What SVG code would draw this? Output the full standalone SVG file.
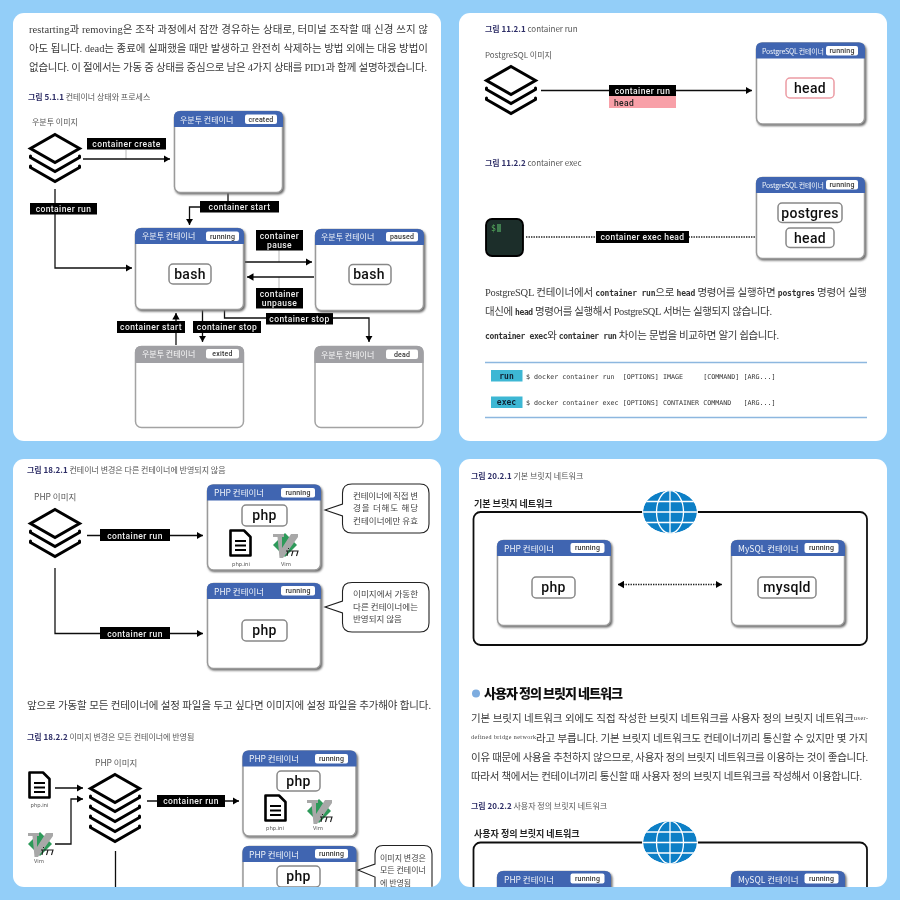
<svg xmlns="http://www.w3.org/2000/svg" width="900" height="900" viewBox="0 0 900 900">
<style>
.body{font-family:"Liberation Serif","Noto Sans CJK KR",serif;font-size:10.5px;fill:#3a3a3a}
.mono{font-family:"DejaVu Sans Mono","Noto Sans CJK KR",monospace;font-size:8px;fill:#333;font-weight:700}
.cmd{font-family:"DejaVu Sans Mono",monospace;font-size:6.7px;fill:#333;white-space:pre}
.tag{font-family:"DejaVu Sans Mono",monospace;font-size:8px;fill:#123;font-weight:700;text-anchor:middle}
.cap{font-family:"Noto Sans CJK KR","Noto Sans",sans-serif;font-size:8px;fill:#555}
.capb{font-weight:700;fill:#2d2d66}
.sm{font-family:"Noto Sans CJK KR","Noto Sans",sans-serif;font-size:8px;fill:#555}
.tt{font-family:"Noto Sans CJK KR","Noto Sans",sans-serif;font-size:8px;fill:#fff;opacity:.92}
.tl{font-size:8.5px}
.bd{font-family:Roboto,"Noto Sans",sans-serif;font-size:7px;font-weight:500;fill:#333;text-anchor:middle;letter-spacing:.2px}
.bdg{fill:#fff}
.pr{fill:#fff;stroke:#888;stroke-width:1.5}
.prt{font-family:Roboto,"Noto Sans",sans-serif;font-size:14px;font-weight:500;fill:#111;text-anchor:middle;letter-spacing:.3px}
.lb{fill:#000}
.lt{font-family:Roboto,"Noto Sans",sans-serif;font-size:8.5px;font-weight:500;fill:#eee;text-anchor:middle;letter-spacing:.4px}
.w{fill:none;stroke:#111;stroke-width:1.3}
.a{marker-end:url(#ah)}
.thin{fill:none;stroke:#999;stroke-width:.7}
.dot{fill:none;stroke:#222;stroke-width:1.4;stroke-dasharray:1.4 1.1}
.ic{font-family:"Noto Sans","Noto Sans CJK KR",sans-serif;font-size:5.5px;fill:#555;text-anchor:middle}
.cb{font-family:"Noto Sans CJK KR","Noto Sans",sans-serif;font-size:8.5px;fill:#444}
.call{fill:#fff;stroke:#222;stroke-width:1.1}
.nt{font-family:"Noto Sans CJK KR","Noto Sans",sans-serif;font-size:9px;font-weight:700;fill:#222}
.s{fill:none;stroke:#000;stroke-width:3;stroke-linejoin:miter;stroke-linecap:round}
</style>
<defs>
<filter id="soft" x="0" y="0" width="100%" height="100%"><feGaussianBlur stdDeviation="0.3"/></filter>
<filter id="sh" x="-5%" y="-5%" width="112%" height="112%"><feGaussianBlur stdDeviation="0.8"/></filter>
<marker id="ah" markerUnits="userSpaceOnUse" markerWidth="7" markerHeight="8" refX="6.5" refY="4" orient="auto"><path d="M0,0.3L6.5,4L0,7.7Z" fill="#000"/></marker>
<marker id="ahs" markerUnits="userSpaceOnUse" markerWidth="7" markerHeight="8" refX="0.5" refY="4" orient="auto"><path d="M6.5,0.3L0,4L6.5,7.7Z" fill="#000"/></marker>
<clipPath id="p3"><rect x="13" y="459" width="428" height="428" rx="11"/></clipPath>
<clipPath id="p4"><rect x="459" y="459" width="428" height="428" rx="11"/></clipPath>
<clipPath id="gc"><ellipse cx="0" cy="0" rx="27" ry="21.5"/></clipPath>
<g id="lay"><path class="s" d="M-24.500,23V24.500L0,38.500L24.500,24.500V23"/></g>
<g id="stack"><path class="s" d="M0,1.500L24.500,15.500L0,29.500L-24.500,15.500Z"/><use href="#lay"/><use href="#lay" y="10"/></g>
<g id="stack5"><use href="#stack"/><use href="#lay" y="20"/><use href="#lay" y="30"/></g>
<g id="box"><rect x="1" y="1.500" width="109.500" height="82" rx="6" fill="#666" filter="url(#sh)"/><rect x=".5" y=".5" width="108" height="81" rx="6" fill="#fff" stroke="#9a9a9a" stroke-width="1.500"/><path d="M0,16V6Q0,0 6,0H103Q109,0 109,6V16Z" fill="#3f65b1"/></g>
<g id="boxg"><rect x=".5" y=".5" width="108" height="81" rx="6" fill="#fff" stroke="#a3a3a3" stroke-width="1.500"/><path d="M0,17V6Q0,0 6,0H103Q109,0 109,6V17Z" fill="#a0a0a4"/></g>
<g id="boxL"><rect x="1" y="1.500" width="114.500" height="86" rx="6" fill="#666" filter="url(#sh)"/><rect x=".5" y=".5" width="113" height="85" rx="6" fill="#fff" stroke="#9a9a9a" stroke-width="1.500"/><path d="M0,16V6Q0,0 6,0H108Q114,0 114,6V16Z" fill="#3f65b1"/></g>
<g id="doc"><path d="M1.500,1.500H15L21.500,8V26.500H1.500Z" fill="#fff" stroke="#000" stroke-width="2.600" stroke-linejoin="round"/><path d="M6,12H17M6,16.500H17M6,21H17" stroke="#000" stroke-width="1.800"/></g>
<g id="vim"><path d="M12,0L24,12L12,24L0,12Z" fill="#2f9a5a"/><path d="M0,1H11V4H9V15L18,1H25V4L10,25H6.500L4.500,4H0Z" fill="#a8a8a8"/><path d="M13,18h2l-1,5M16,18h9l-1.500,5M20,18l-1.500,5M15,15.500h1" fill="none" stroke="#1b1b1b" stroke-width="1.100"/></g>
<g id="globe"><ellipse rx="28" ry="22.500" fill="#fff"/><g clip-path="url(#gc)"><ellipse rx="27" ry="21.500" fill="#0f7fc6"/><path d="M-27,-10.500H27M-27,0H27M-27,10.500H27M0,-22V22" stroke="#fff" stroke-width="1.300"/><ellipse rx="13.500" ry="21.500" fill="none" stroke="#fff" stroke-width="1.300"/></g></g>
</defs>
<rect width="900" height="900" fill="#93cef8"/>
<g filter="url(#soft)">
<g id="panels" fill="#fff"><rect x="13" y="13" width="428" height="428" rx="11"/><rect x="459" y="13" width="428" height="428" rx="11"/><rect x="13" y="459" width="428" height="428" rx="11"/><rect x="459" y="459" width="428" height="428" rx="11"/></g>

<g id="panel1-text">
<text class="body" x="29" y="33" textLength="399">restarting과 removing은 조작 과정에서 잠깐 경유하는 상태로, 터미널 조작할 때 신경 쓰지 않</text>
<text class="body" x="29" y="52" textLength="399">아도 됩니다. dead는 종료에 실패했을 때만 발생하고 완전히 삭제하는 방법 외에는 대응 방법이</text>
<text class="body" x="29" y="71" textLength="398">없습니다. 이 절에서는 가동 중 상태를 중심으로 남은 4가지 상태를 PID1과 함께 설명하겠습니다.</text>
<text class="cap" x="28" y="100"><tspan class="capb">그림 5.1.1</tspan> 컨테이너 상태와 프로세스</text>
<text class="sm" x="32" y="125">우분투 이미지</text>
</g>
<g id="connectors1">
<path class="thin" d="M126,150V159M279,250V262M279,277V288"/>
<path class="w a" d="M83,159H170"/>
<path class="w a" d="M55,189V268H132"/>
<path class="w a" d="M228,193V207H189.500V225"/>
<path class="w a" d="M245,262H312"/>
<path class="w a" d="M314,277H247"/>
<path class="w a" d="M176,345V313"/>
<path class="w a" d="M202.500,310V342"/>
<path class="w a" d="M224.500,310V318H369V342"/>
<rect class="lb" x="87" y="138" width="79" height="11.500"/><text class="lt" x="126.500" y="147">container create</text>
<rect class="lb" x="30" y="203" width="67" height="11.500"/><text class="lt" x="63.500" y="212">container run</text>
<rect class="lb" x="200" y="201" width="79" height="11.500"/><text class="lt" x="239.500" y="210">container start</text>
<rect class="lb" x="256" y="230" width="47" height="20.500"/><text class="lt" x="279.500" y="238.500">container</text><text class="lt" x="279.500" y="248">pause</text>
<rect class="lb" x="256" y="288" width="47" height="20.500"/><text class="lt" x="279.500" y="296.500">container</text><text class="lt" x="279.500" y="306">unpause</text>
<rect class="lb" x="117" y="321" width="68" height="12"/><text class="lt" x="151" y="330">container start</text>
<rect class="lb" x="193" y="321" width="68" height="12"/><text class="lt" x="227" y="330">container stop</text>
<rect class="lb" x="266" y="313" width="67" height="11.500"/><text class="lt" x="299.500" y="321.500">container stop</text>
</g>
<g id="image-ubuntu"><use href="#stack" x="55" y="133"/></g>
<g id="c-created"><use href="#box" x="174" y="111"/><text class="tt" x="180" y="122.500">우분투 컨테이너</text><rect class="bdg" x="245" y="114.500" width="32" height="9.500" rx="2"/><text class="bd" x="261" y="121.500">created</text></g>
<g id="c-running"><use href="#box" x="135" y="228"/><text class="tt" x="142" y="239">우분투 컨테이너</text><rect class="bdg" x="206" y="231.500" width="33" height="9.500" rx="2"/><text class="bd" x="222.500" y="238.500">running</text><rect class="pr" x="169" y="264" width="42" height="20" rx="4"/><text class="prt" x="190" y="278.500">bash</text></g>
<g id="c-paused"><use href="#box" x="315" y="229"/><text class="tt" x="321" y="239.500">우분투 컨테이너</text><rect class="bdg" x="386" y="232" width="32" height="9.500" rx="2"/><text class="bd" x="402" y="239">paused</text><rect class="pr" x="349" y="264.500" width="42" height="20" rx="4"/><text class="prt" x="369" y="279">bash</text></g>
<g id="c-exited"><use href="#boxg" x="135" y="346"/><text class="tt" x="142" y="357">우분투 컨테이너</text><rect class="bdg" x="206" y="349" width="33" height="9.500" rx="2"/><text class="bd" x="222.500" y="356">exited</text></g>
<g id="c-dead"><use href="#boxg" x="314.500" y="346"/><text class="tt" x="321" y="357.500">우분투 컨테이너</text><rect class="bdg" x="386" y="349.500" width="32" height="9.500" rx="2"/><text class="bd" x="402" y="356.500">dead</text></g>

<g id="panel2-text">
<text class="cap" x="485" y="32"><tspan class="capb">그림 11.2.1</tspan> container run</text>
<text class="sm" x="485" y="58">PostgreSQL 이미지</text>
<text class="cap" x="485" y="166"><tspan class="capb">그림 11.2.2</tspan> container exec</text>
<text class="body" x="485" y="296" textLength="382">PostgreSQL 컨테이너에서 <tspan class="mono">container run</tspan>으로 <tspan class="mono">head</tspan> 명령어를 실행하면 <tspan class="mono">postgres</tspan> 명령어 실행</text>
<text class="body" x="485" y="314.500" textLength="287">대신에 <tspan class="mono">head</tspan> 명령어를 실행해서 PostgreSQL 서버는 실행되지 않습니다.</text>
<text class="body" x="485" y="338.500" textLength="294"><tspan class="mono">container exec</tspan>와 <tspan class="mono">container run</tspan> 차이는 문법을 비교하면 알기 쉽습니다.</text>
</g>
<g id="connectors2">
<path class="w a" d="M541,90.500H752"/>
<path class="dot" d="M526,237H787"/>
<rect class="lb" x="609" y="85" width="67" height="11"/><text class="lt" x="642.500" y="94">container run</text>
<rect x="609" y="96" width="67" height="12" fill="#f8a0a8"/><text class="lt" x="614" y="105.500" style="text-anchor:start;fill:#222">head</text>
<rect class="lb" x="596" y="231" width="93" height="12"/><text class="lt" x="642.500" y="240">container exec head</text>
</g>
<g id="image-pg"><use href="#stack" x="511" y="65"/></g>
<g id="c-pg1"><use href="#box" x="756" y="42.500"/><text class="tt" x="762" y="53.500" style="font-size:7px" textLength="62">PostgreSQL 컨테이너</text><rect class="bdg" x="826" y="46" width="32" height="9.500" rx="2"/><text class="bd" x="842" y="53">running</text><rect x="786" y="78" width="48" height="20" rx="4" fill="#fff" stroke="#ec9ca4" stroke-width="1.500"/><text class="prt" x="810" y="92.500">head</text></g>
<g id="c-pg2"><use href="#box" x="756" y="177"/><text class="tt" x="762" y="187.500" style="font-size:7px" textLength="62">PostgreSQL 컨테이너</text><rect class="bdg" x="826" y="180" width="32" height="9.500" rx="2"/><text class="bd" x="842" y="187">running</text><rect class="pr" x="778" y="203" width="64" height="19.500" rx="4"/><text class="prt" x="810" y="217.500">postgres</text><rect class="pr" x="786" y="228" width="48" height="19.500" rx="4"/><text class="prt" x="810" y="242.500">head</text></g>
<g id="terminal"><rect x="486" y="219" width="37" height="37" rx="6" fill="#1e2e2c" stroke="#000" stroke-width="1.800"/><text x="491" y="231" font-family="DejaVu Sans Mono, monospace" font-size="8" fill="#56b45c">$</text><rect x="497" y="224" width="4" height="8" fill="#3f7d50"/></g>
<g id="syntax">
<path d="M485,362.500H867M485,417.500H867" stroke="#8db7df" stroke-width="1.300"/>
<rect x="491" y="370" width="31.500" height="11.500" fill="#3eb7d4"/><text class="tag" x="506.500" y="378.500">run</text>
<rect x="491" y="396.500" width="31.500" height="11.500" fill="#3eb7d4"/><text class="tag" x="506.500" y="405">exec</text>
<text class="cmd" x="526" y="378.500">$ docker container run  [OPTIONS] IMAGE     [COMMAND] [ARG...]</text>
<text class="cmd" x="526" y="405">$ docker container exec [OPTIONS] CONTAINER COMMAND   [ARG...]</text>
</g>

<g clip-path="url(#p3)">
<g id="panel3-text">
<text class="cap" x="27" y="473"><tspan class="capb">그림 18.2.1</tspan> 컨테이너 변경은 다른 컨테이너에 반영되지 않음</text>
<text class="sm" x="34" y="500" style="font-size:8.500px">PHP 이미지</text>
<text class="body" x="27" y="709" textLength="404">앞으로 가동할 모든 컨테이너에 설정 파일을 두고 싶다면 이미지에 설정 파일을 추가해야 합니다.</text>
<text class="cap" x="27" y="740"><tspan class="capb">그림 18.2.2</tspan> 이미지 변경은 모든 컨테이너에 반영됨</text>
<text class="sm" x="95" y="766" style="font-size:8.500px">PHP 이미지</text>
</g>
<g id="connectors3">
<path class="w a" d="M87,535.500H203"/>
<path class="w a" d="M55,568V633.500H203"/>
<path class="w a" d="M55,788H83"/>
<path class="w a" d="M55,844H71V799H83"/>
<path class="w a" d="M147,801H239"/>
<path class="w" d="M115.500,851V890"/>
<rect class="lb" x="100" y="529" width="70" height="12"/><text class="lt" x="135" y="538.500">container run</text>
<rect class="lb" x="100" y="627" width="70" height="12"/><text class="lt" x="135" y="636.500">container run</text>
<rect class="lb" x="157" y="795" width="68" height="12"/><text class="lt" x="191" y="804">container run</text>
</g>
<g id="image-php1"><use href="#stack" x="55" y="508"/></g>
<g id="image-php2"><use href="#stack5" x="115" y="773"/></g>
<g id="file-ini"><use href="#doc" x="28" y="771"/><text class="ic" x="39.500" y="807">php.ini</text></g>
<g id="file-vim"><use href="#vim" x="28" y="832"/><text class="ic" x="39" y="863">Vim</text></g>
<g id="c-php1"><use href="#boxL" x="207" y="484.500"/><text class="tt tl" x="214" y="496">PHP 컨테이너</text><rect class="bdg" x="281" y="488" width="34" height="9.500" rx="2"/><text class="bd" x="298" y="495">running</text><rect class="pr" x="242" y="505" width="45" height="21" rx="4"/><text class="prt" x="264.500" y="520">php</text><use href="#doc" x="229" y="529"/><text class="ic" x="241" y="566">php.ini</text><use href="#vim" x="273" y="533"/><text class="ic" x="286" y="566">Vim</text></g>
<g id="c-php2"><use href="#boxL" x="207" y="583"/><text class="tt tl" x="214" y="594.500">PHP 컨테이너</text><rect class="bdg" x="281" y="586" width="34" height="9.500" rx="2"/><text class="bd" x="298" y="593">running</text><rect class="pr" x="242" y="620" width="45" height="21" rx="4"/><text class="prt" x="264.500" y="635">php</text></g>
<g id="callout1"><path class="call" d="M352,484H420Q429,484 429,493V524Q429,533 420,533H352Q342.500,533 342.500,524V516L325,510L342.500,504V493Q342.500,484 352,484Z"/><text class="cb" x="353" y="499" textLength="65">컨테이너에 직접 변</text><text class="cb" x="353" y="511" textLength="65">경을 더해도 해당</text><text class="cb" x="353" y="524" textLength="65">컨테이너에만 유효</text></g>
<g id="callout2"><path class="call" d="M352,582.500H420Q429,582.500 429,591V623Q429,632 420,632H352Q342.500,632 342.500,623V613L325,607L342.500,601V591Q342.500,582.500 352,582.500Z"/><text class="cb" x="353" y="597" textLength="65">이미지에서 가동한</text><text class="cb" x="353" y="610" textLength="65">다른 컨테이너에는</text><text class="cb" x="353" y="622">반영되지 않음</text></g>
<g id="c-php3"><use href="#boxL" x="242.500" y="750.500"/><text class="tt tl" x="249" y="762">PHP 컨테이너</text><rect class="bdg" x="315" y="754" width="33" height="9.500" rx="2"/><text class="bd" x="331.500" y="761">running</text><rect class="pr" x="277" y="771" width="43" height="20" rx="4"/><text class="prt" x="298.500" y="786">php</text><use href="#doc" x="264" y="794"/><text class="ic" x="275" y="830">php.ini</text><use href="#vim" x="307" y="799"/><text class="ic" x="318" y="830">Vim</text></g>
<g id="c-php4"><use href="#boxL" x="242.500" y="846"/><text class="tt tl" x="249" y="857.500">PHP 컨테이너</text><rect class="bdg" x="315" y="849" width="33" height="9.500" rx="2"/><text class="bd" x="331.500" y="856">running</text><rect class="pr" x="277" y="866" width="43" height="21" rx="4"/><text class="prt" x="298.500" y="881">php</text></g>
<g id="callout3"><path class="call" d="M383,845.500H424Q432,845.500 432,854V900H375V877L358,870L375,864V854Q375,845.500 383,845.500Z"/><text class="cb" x="380" y="861" style="font-size:8px">이미지 변경은</text><text class="cb" x="380" y="873" style="font-size:8px">모든 컨테이너</text><text class="cb" x="380" y="886" style="font-size:8px">에 반영됨</text></g>
</g>

<g clip-path="url(#p4)">
<g id="panel4-text">
<text class="cap" x="471" y="479"><tspan class="capb">그림 20.2.1</tspan> 기본 브릿지 네트워크</text>
<text class="nt" x="474" y="506.500">기본 브릿지 네트워크</text>
<circle cx="476" cy="693.500" r="4" fill="#7dacdf"/>
<text x="484" y="698" font-family="Noto Sans CJK KR, sans-serif" font-size="13" font-weight="900" fill="#111" textLength="139">사용자 정의 브릿지 네트워크</text>
<text class="body" x="471" y="722" textLength="383">기본 브릿지 네트워크 외에도 직접 작성한 브릿지 네트워크를 사용자 정의 브릿지 네트워크</text>
<text class="body" x="854" y="720" style="font-size:6px" textLength="14">user-</text>
<text class="body" x="471" y="739" style="font-size:6px" textLength="65">defined bridge network</text>
<text class="body" x="536" y="741.500" textLength="332">라고 부릅니다. 기본 브릿지 네트워크도 컨테이너끼리 통신할 수 있지만 몇 가지</text>
<text class="body" x="471" y="761" textLength="397">이유 때문에 사용을 추천하지 않으므로, 사용자 정의 브릿지 네트워크를 이용하는 것이 좋습니다.</text>
<text class="body" x="471" y="780" textLength="391">따라서 책에서는 컨테이너끼리 통신할 때 사용자 정의 브릿지 네트워크를 작성해서 이용합니다.</text>
<text class="cap" x="471" y="809"><tspan class="capb">그림 20.2.2</tspan> 사용자 정의 브릿지 네트워크</text>
<text class="nt" x="474" y="836.500">사용자 정의 브릿지 네트워크</text>
</g>
<g id="net1"><rect x="473.500" y="512" width="393.500" height="133" rx="7" fill="none" stroke="#111" stroke-width="1.800"/><use href="#globe" x="670" y="512"/></g>
<g id="net2"><rect x="473.500" y="842.500" width="393.500" height="133" rx="7" fill="none" stroke="#111" stroke-width="1.800"/><use href="#globe" x="670" y="842.500"/></g>
<g id="connectors4"><path class="dot" d="M618,584.500H722" marker-start="url(#ahs)" marker-end="url(#ah)"/></g>
<g id="c-php5"><use href="#boxL" x="497" y="540"/><text class="tt tl" x="504" y="552">PHP 컨테이너</text><rect class="bdg" x="570.500" y="543" width="34" height="10" rx="2"/><text class="bd" x="587.500" y="550">running</text><rect class="pr" x="532" y="577" width="43" height="21" rx="4"/><text class="prt" x="553.500" y="592">php</text></g>
<g id="c-mysql1"><use href="#boxL" x="731" y="540"/><text class="tt tl" x="738" y="552">MySQL 컨테이너</text><rect class="bdg" x="804.500" y="543" width="34" height="10" rx="2"/><text class="bd" x="821.500" y="550">running</text><rect class="pr" x="758" y="577" width="58" height="21" rx="4"/><text class="prt" x="787" y="592">mysqld</text></g>
<g id="c-php6"><use href="#boxL" x="497" y="871"/><text class="tt tl" x="504" y="882.500">PHP 컨테이너</text><rect class="bdg" x="570.500" y="873.500" width="34" height="10" rx="2"/><text class="bd" x="587.500" y="880.500">running</text></g>
<g id="c-mysql2"><use href="#boxL" x="731" y="871"/><text class="tt tl" x="738" y="882.500">MySQL 컨테이너</text><rect class="bdg" x="804.500" y="873.500" width="34" height="10" rx="2"/><text class="bd" x="821.500" y="880.500">running</text></g>
</g>
</g>
</svg>
